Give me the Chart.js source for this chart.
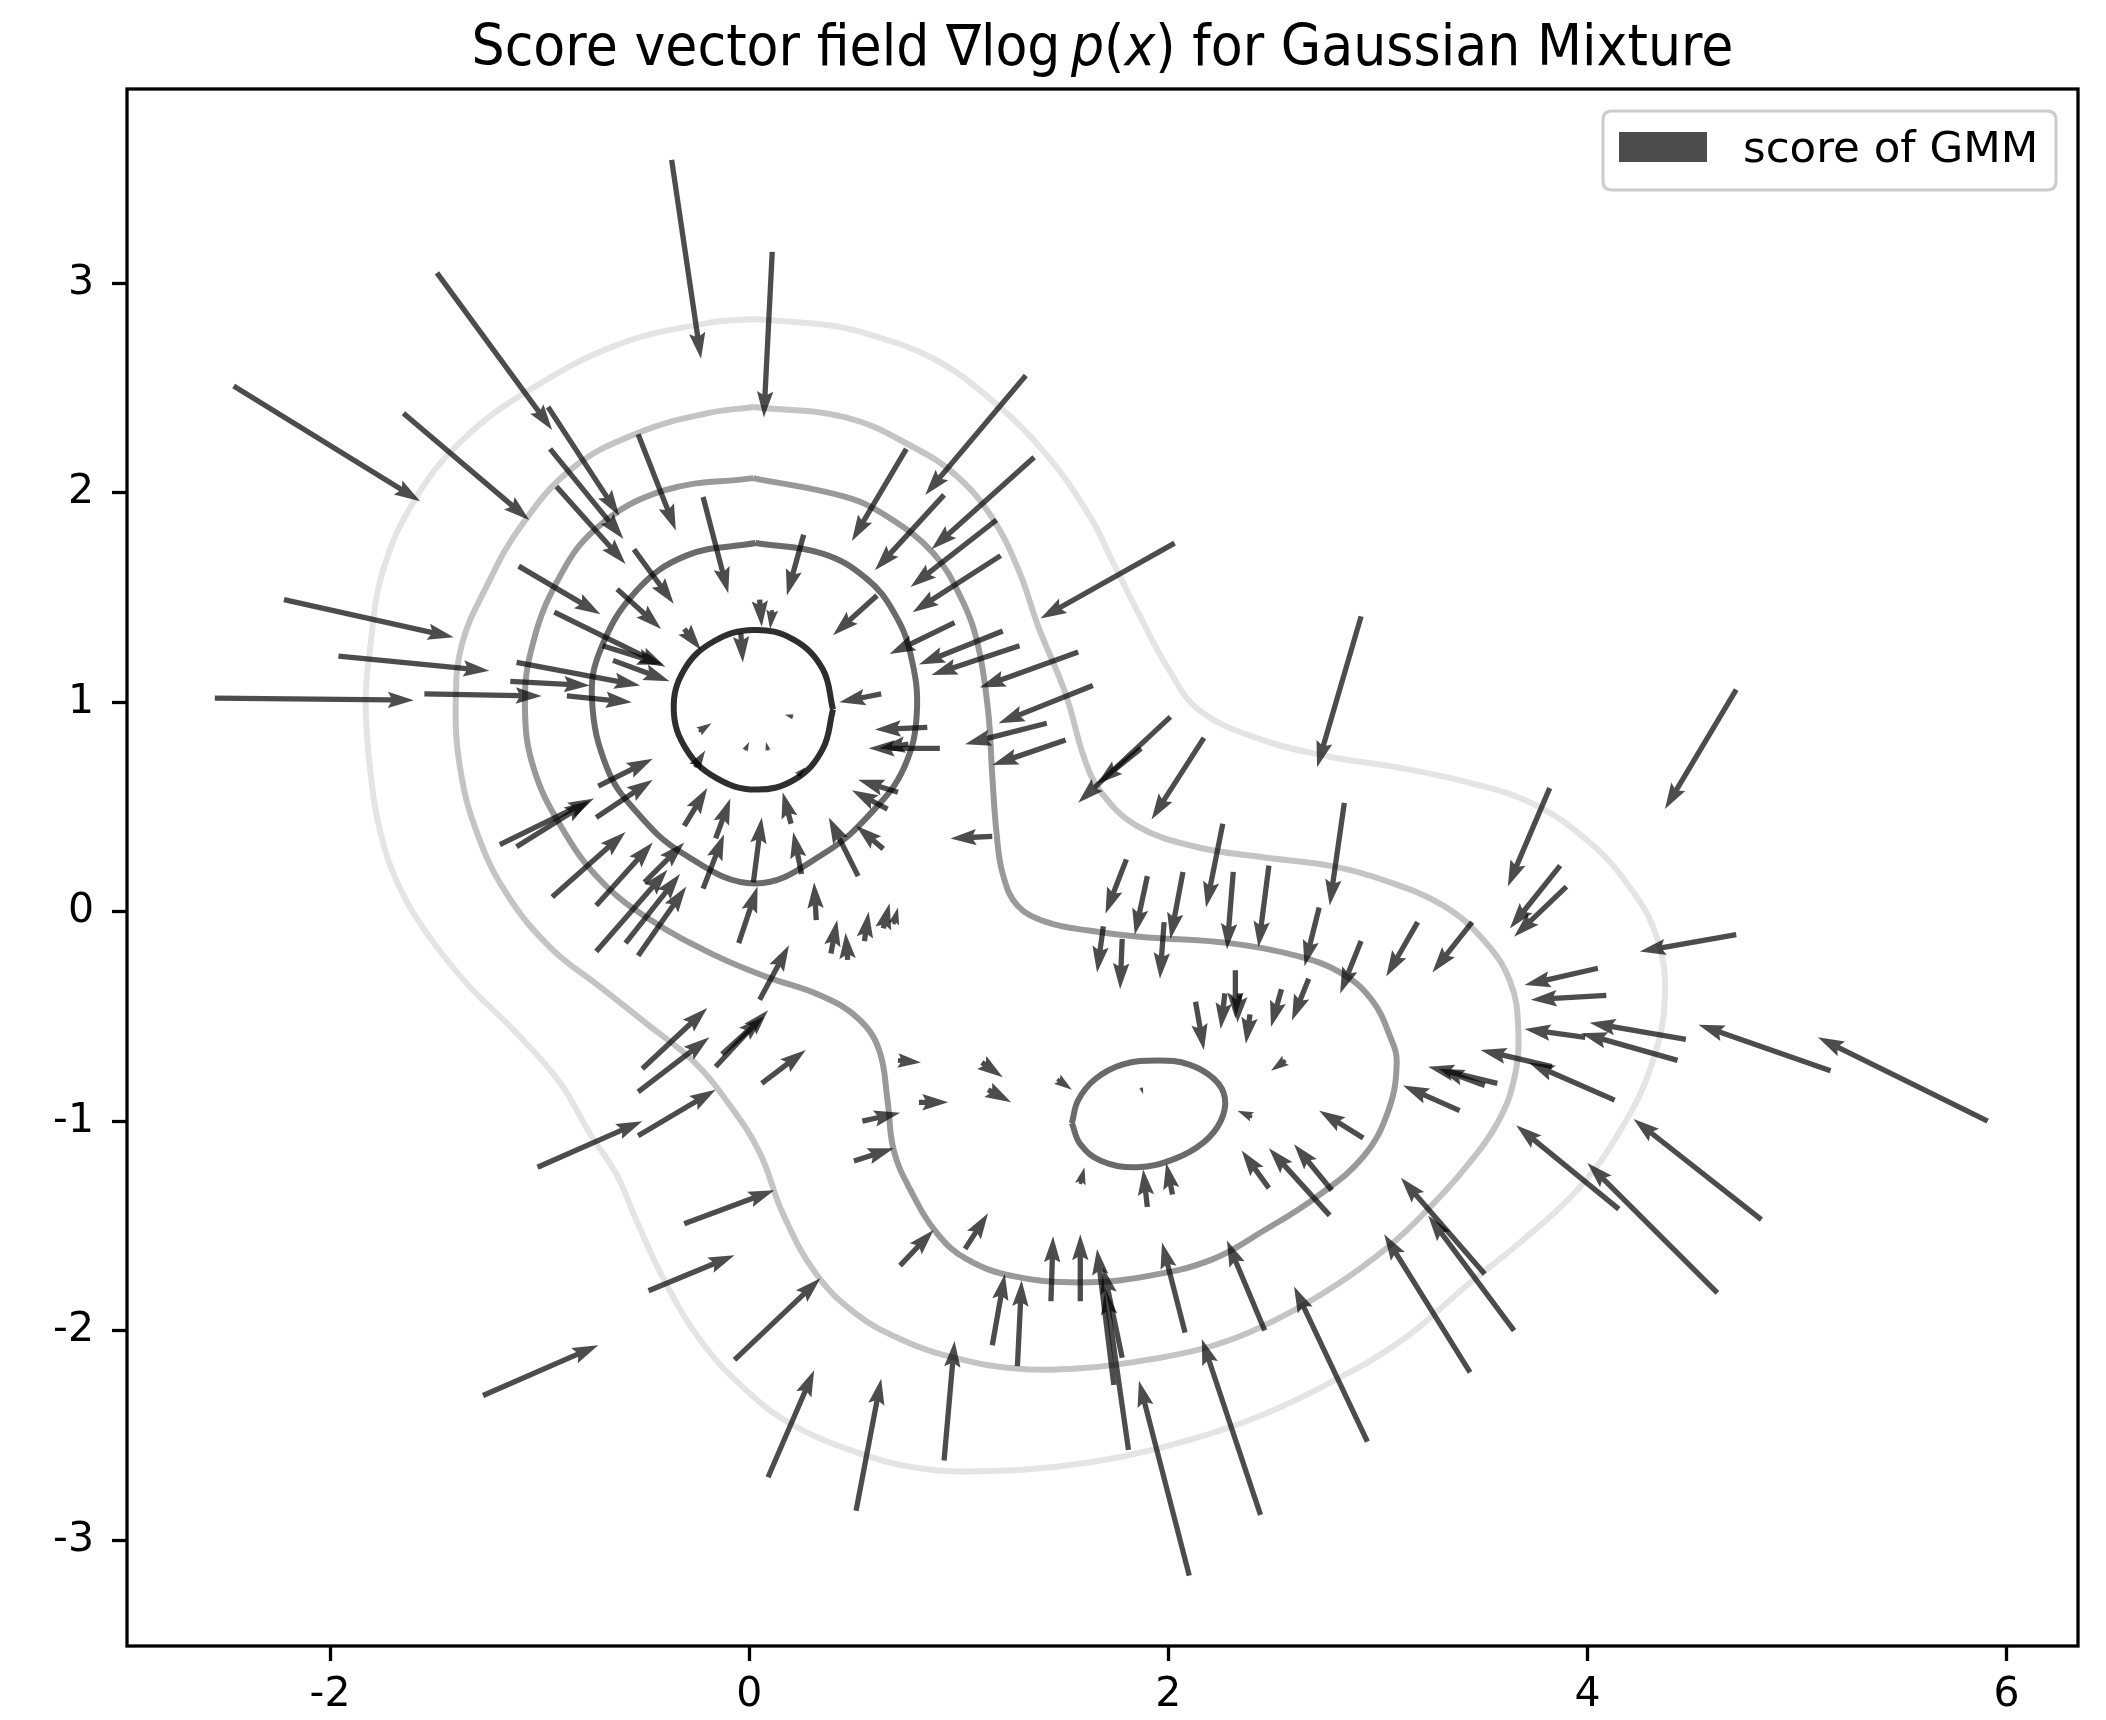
<!DOCTYPE html>
<html lang="en">
<head>
<meta charset="UTF-8">
<title>Score vector field for Gaussian Mixture</title>
<style>
    * { margin: 0; padding: 0; box-sizing: border-box; }
    body { background: #fff; width: 2106px; height: 1720px; overflow: hidden; }
    canvas { display: block; }
</style>
</head>
<body>
<canvas id="scoreChart" width="2106" height="1720"></canvas>
<script src="https://cdn.jsdelivr.net/npm/chart.js@4"></script>
<script>
// tick values
const xTickValues = [-2, 0, 2, 4, 6];
const yTickValues = [-3, -2, -1, 0, 1, 2, 3];

// arrows: tail position and vector (data units)
const arrowX = [-0.37,0.11,-1.49,-2.46,-1.65,-0.96,-0.95,-0.92,-0.53,-0.22,0.26,1.32,0.75,1.36,0.93,1.18,1.20,2.03,0.61,-2.22,
  -1.96,-2.55,-1.10,-0.55,-0.63,-0.93,0.98,1.21,1.29,1.57,0.63,0.85,0.91,0.76,1.64,1.42,1.51,1.16,2.01,1.87,
  2.17,2.92,3.82,4.71,0.71,0.66,0.64,0.52,0.25,0.20,0.02,-0.05,0.32,-0.22,-0.16,-0.31,-0.94,-0.73,-0.73,-0.59,
  -0.53,-0.50,-0.73,-0.72,-1.19,-1.11,-0.26,-0.02,0.09,0.39,0.47,0.55,0.64,0.69,0.05,-0.04,0.05,0.11,-0.31,0.23,
  0.21,-0.24,-1.55,-1.11,-1.14,-0.87,-0.70,-0.65,1.80,1.90,2.07,2.26,2.31,2.48,2.84,1.69,1.78,1.98,2.72,2.67,
  2.54,2.92,3.19,3.45,3.87,3.90,2.32,2.27,2.13,2.39,2.34,4.71,4.05,4.09,4.47,4.43,3.99,5.16,5.91,4.13,
  3.57,3.51,3.83,3.39,2.93,2.48,2.77,2.78,2.40,2.56,1.87,1.90,2.02,1.58,4.15,3.51,3.65,3.44,4.62,4.83,
  2.95,2.46,2.44,2.10,1.81,1.74,1.78,2.08,1.44,1.58,1.16,1.28,0.93,0.09,0.51,-0.07,0.72,1.03,0.54,0.50,
  0.71,0.81,1.11,1.14,1.47,-0.16,-0.13,-0.51,-0.53,0.06,-0.53,-1.01,-0.31,-0.48,-1.27];
const arrowY = [3.59,3.15,3.05,2.51,2.38,2.41,2.21,2.03,2.28,1.98,1.80,2.56,2.21,2.17,1.99,1.87,1.70,1.76,1.51,1.49,
  1.22,1.02,1.65,1.73,1.54,1.43,1.38,1.34,1.27,1.24,1.04,0.88,0.78,0.80,1.08,0.90,0.82,0.36,0.93,0.78,
  0.83,1.41,0.59,1.06,0.57,0.49,0.30,0.17,0.18,0.42,0.14,-0.15,-0.04,0.11,0.35,0.41,0.07,0.03,-0.19,-0.15,
  -0.21,0.14,0.45,0.60,0.32,0.31,0.69,0.77,0.77,-0.20,-0.23,-0.14,-0.08,-0.06,-0.42,1.33,1.49,1.44,1.35,0.65,
  0.93,0.86,1.04,1.19,1.10,1.03,1.27,1.20,0.25,0.17,0.19,0.42,0.19,0.22,0.52,-0.07,-0.13,-0.05,0.02,-0.32,
  -0.37,-0.14,-0.05,-0.05,0.22,0.12,-0.28,-0.39,-0.43,-0.49,-0.39,-0.11,-0.27,-0.40,-0.61,-0.71,-0.60,-0.76,-1.00,-0.90,
  -0.82,-0.83,-0.74,-0.95,-1.08,-1.32,-1.45,-1.33,-0.98,-0.71,-0.84,-1.41,-1.35,-1.30,-1.42,-1.73,-2.00,-2.20,-1.82,-1.47,
  -2.53,-2.00,-2.88,-3.17,-2.57,-2.26,-2.13,-2.01,-1.86,-1.86,-2.07,-2.17,-2.62,-2.70,-2.86,-2.14,-1.69,-1.61,-1.00,-1.19,
  -0.71,-0.91,-0.72,-0.85,-0.80,-0.74,-0.68,-0.75,-0.86,-0.82,-1.07,-1.22,-1.49,-1.81,-2.31];
const arrowU = [0.14,-0.04,0.55,0.89,0.60,0.34,0.35,0.33,0.18,0.12,-0.08,-0.48,-0.26,-0.49,-0.33,-0.41,-0.42,-0.64,-0.21,0.81,
  0.72,0.95,0.39,0.19,0.21,0.53,-0.31,-0.40,-0.42,-0.47,-0.20,-0.25,-0.34,-0.14,-0.45,-0.39,-0.35,-0.20,-0.44,-0.21,
  -0.25,-0.21,-0.20,-0.34,-0.19,-0.17,-0.13,-0.14,-0.04,-0.04,0.04,0.09,-0.01,0.10,0.07,0.11,0.35,0.27,0.34,0.26,
  0.23,0.19,0.27,0.26,0.45,0.35,0.05,0.02,-0.01,0.03,-0.01,0.02,0.03,0.02,0.14,0.01,0.01,-0.01,0.08,0.04,
  -0.04,0.06,0.56,0.59,0.38,0.31,0.29,0.27,-0.10,-0.06,-0.06,-0.08,-0.03,-0.05,-0.07,-0.03,-0.01,-0.02,-0.07,-0.08,
  -0.05,-0.10,-0.15,-0.19,-0.24,-0.25,0.00,-0.02,0.04,-0.02,-0.01,-0.46,-0.35,-0.36,-0.46,-0.46,-0.29,-0.63,-0.81,-0.41,
  -0.33,-0.22,-0.34,-0.27,-0.21,-0.13,-0.29,-0.18,-0.07,-0.07,0.01,-0.02,-0.03,0.02,-0.49,-0.40,-0.41,-0.41,-0.62,-0.61,
  -0.35,-0.18,-0.28,-0.24,-0.11,-0.08,-0.09,-0.11,0.01,0.00,0.06,0.02,0.05,0.22,0.12,0.41,0.16,0.11,0.18,0.19,
  0.11,0.14,0.10,0.11,0.07,0.25,0.20,0.31,0.34,0.21,0.37,0.50,0.43,0.41,0.55];
const arrowV = [-0.95,-0.79,-0.75,-0.55,-0.51,-0.52,-0.43,-0.37,-0.46,-0.46,-0.29,-0.57,-0.44,-0.44,-0.36,-0.32,-0.27,-0.36,-0.19,-0.18,
  -0.07,-0.01,-0.23,-0.26,-0.19,-0.26,-0.15,-0.16,-0.14,-0.17,-0.04,-0.01,0.00,-0.02,-0.18,-0.10,-0.12,-0.01,-0.41,-0.17,
  -0.39,-0.72,-0.47,-0.57,0.06,0.09,0.11,0.28,0.20,0.15,0.31,0.27,0.18,0.26,0.19,0.18,0.31,0.30,0.39,0.33,
  0.33,0.19,0.18,0.13,0.22,0.22,0.08,0.04,0.04,0.16,0.13,0.14,0.12,0.08,0.26,-0.14,-0.13,-0.09,-0.10,0.04,
  0.01,0.04,-0.01,-0.11,-0.02,-0.03,-0.09,-0.10,-0.26,-0.28,-0.32,-0.40,-0.37,-0.39,-0.49,-0.22,-0.24,-0.27,-0.28,-0.20,
  -0.18,-0.25,-0.26,-0.24,-0.30,-0.24,-0.23,-0.17,-0.23,-0.14,-0.14,-0.08,-0.08,-0.02,0.08,0.13,0.04,0.22,0.40,0.18,
  0.08,0.08,0.08,0.12,0.13,0.18,0.32,0.22,0.03,-0.05,-0.03,0.18,0.15,0.08,0.40,0.46,0.55,0.66,0.62,0.48,
  0.74,0.43,0.84,0.93,0.77,0.65,0.43,0.43,0.31,0.32,0.34,0.41,0.57,0.51,0.63,0.39,0.17,0.17,0.04,0.06,
  -0.01,0.00,-0.07,-0.06,-0.05,0.27,0.18,0.29,0.26,0.16,0.22,0.22,0.16,0.17,0.24];

// density contour levels, outermost to innermost
const levelFive = [[0.02,2.83],[0.38,2.80],[0.56,2.76],[0.88,2.64],[1.16,2.44],[1.42,2.18],[1.63,1.88],[1.73,1.68],[1.85,1.44],
  [2.00,1.16],[2.15,0.96],[2.45,0.82],[2.77,0.74],[3.09,0.69],[3.42,0.62],[3.73,0.52],[4.00,0.34],[4.20,0.12],[4.33,-0.12],
  [4.37,-0.40],[4.31,-0.72],[4.16,-1.04],[3.95,-1.33],[3.69,-1.57],[3.43,-1.78],[3.11,-2.05],[2.75,-2.26],[2.43,-2.41],
  [2.11,-2.52],[1.79,-2.60],[1.47,-2.65],[1.15,-2.67],[0.83,-2.66],[0.51,-2.58],[0.19,-2.44],[-0.03,-2.27],[-0.23,-2.05],
  [-0.40,-1.77],[-0.54,-1.47],[-0.63,-1.26],[-0.76,-1.06],[-0.90,-0.82],[-1.11,-0.58],[-1.35,-0.34],[-1.54,-0.10],
  [-1.67,0.12],[-1.76,0.38],[-1.81,0.69],[-1.83,1.01],[-1.81,1.25],[-1.75,1.62],[-1.60,1.96],[-1.37,2.25],[-1.05,2.49],
  [-0.62,2.71],[-0.20,2.81]];
const levelFour = [[0.02,2.41],[0.46,2.36],[0.78,2.22],[0.99,2.08],[1.16,1.88],[1.29,1.62],[1.38,1.36],[1.51,1.04],[1.60,0.73],
  [1.68,0.57],[1.85,0.41],[2.13,0.31],[2.45,0.26],[2.77,0.22],[3.03,0.15],[3.31,0.03],[3.50,-0.13],[3.63,-0.33],[3.67,-0.56],
  [3.65,-0.80],[3.57,-1.01],[3.42,-1.22],[3.24,-1.42],[3.05,-1.60],[2.79,-1.79],[2.51,-1.95],[2.22,-2.07],[1.90,-2.14],
  [1.58,-2.18],[1.26,-2.18],[0.94,-2.12],[0.72,-2.04],[0.51,-1.92],[0.32,-1.73],[0.16,-1.44],[0.05,-1.15],[-0.11,-0.90],
  [-0.27,-0.71],[-0.47,-0.55],[-0.71,-0.36],[-0.95,-0.17],[-1.16,0.09],[-1.30,0.38],[-1.38,0.69],[-1.40,1.01],[-1.37,1.28],
  [-1.26,1.54],[-1.09,1.84],[-0.84,2.12],[-0.52,2.29],[-0.20,2.38]];
const levelThree = [[0.02,2.07],[0.46,1.98],[0.67,1.88],[0.88,1.71],[1.01,1.50],[1.09,1.28],[1.14,0.96],[1.16,0.65],[1.18,0.38],
  [1.21,0.18],[1.28,0.03],[1.42,-0.05],[1.62,-0.09],[1.86,-0.12],[2.29,-0.15],[2.61,-0.21],[2.82,-0.29],[2.97,-0.42],
  [3.06,-0.60],[3.09,-0.72],[3.05,-0.95],[2.93,-1.17],[2.71,-1.36],[2.46,-1.52],[2.21,-1.66],[1.90,-1.74],[1.58,-1.77],
  [1.26,-1.74],[1.04,-1.66],[0.90,-1.54],[0.77,-1.33],[0.69,-1.14],[0.66,-0.90],[0.62,-0.66],[0.52,-0.51],[0.34,-0.40],
  [0.08,-0.31],[-0.16,-0.21],[-0.47,-0.04],[-0.71,0.15],[-0.90,0.41],[-1.03,0.69],[-1.07,0.97],[-1.04,1.25],[-0.92,1.57],
  [-0.73,1.83],[-0.41,2.01]];
const levelTwoLeft = [[0.03,1.76],[0.35,1.71],[0.56,1.59],[0.69,1.43],[0.77,1.23],[0.80,0.95],[0.74,0.69],[0.59,0.48],[0.36,0.28],
  [0.03,0.135],[-0.32,0.28],[-0.55,0.49],[-0.68,0.69],[-0.75,1.01],[-0.71,1.25],[-0.54,1.53],[-0.30,1.70]];
const levelTwoRight = [[1.54,-1.01],[1.57,-0.90],[1.65,-0.80],[1.78,-0.73],[1.95,-0.71],[2.10,-0.73],[2.22,-0.80],[2.27,-0.89],
  [2.25,-1.00],[2.17,-1.10],[2.03,-1.18],[1.85,-1.22],[1.68,-1.19],[1.58,-1.11]];
const levelOne = [[0.40,0.965],[0.35,1.16],[0.21,1.30],[0.02,1.345],[-0.17,1.29],[-0.31,1.155],[-0.36,0.965],[-0.30,0.775],
  [-0.16,0.64],[0.03,0.583],[0.22,0.633],[0.35,0.775]];

const legendLabel = 'score of GMM';
const arrowColor = 'rgba(0, 0, 0, 0.7)';

function closedLoop(points) {
    const pts = points.map(p => ({ x: p[0], y: p[1] }));
    pts.push({ x: points[0][0], y: points[0][1] });
    return pts;
}

function contourSet(points, color) {
    return {
        data: closedLoop(points),
        showLine: true,
        borderColor: color,
        borderWidth: 6,
        pointRadius: 0,
        tension: 0.4,
        fill: false
    };
}

const arrowData = arrowX.map((x, i) => ({ x: x, y: arrowY[i], u: arrowU[i], v: arrowV[i] }));

function drawArrow(ctx, x0, y0, x1, y1) {
    const dx = x1 - x0, dy = y1 - y0;
    const len = Math.hypot(dx, dy);
    let w = 5.3, hl = 26, hal = 23, hw = 8.2;
    if (len < hl) {
        const s = len / hl;
        w *= s; hl *= s; hal *= s; hw *= s;
    }
    ctx.save();
    ctx.translate(x0, y0);
    ctx.rotate(Math.atan2(dy, dx));
    ctx.beginPath();
    ctx.moveTo(0, -w / 2);
    ctx.lineTo(len - hal, -w / 2);
    ctx.lineTo(len - hl, -hw);
    ctx.lineTo(len, 0);
    ctx.lineTo(len - hl, hw);
    ctx.lineTo(len - hal, w / 2);
    ctx.lineTo(0, w / 2);
    ctx.closePath();
    ctx.fill();
    ctx.restore();
}

// quiver arrows, drawn through the chart scales
const quiverPlugin = {
    id: 'quiver',
    afterDatasetsDraw(chart) {
        const ctx = chart.ctx;
        const xs = chart.scales.x, ys = chart.scales.y;
        const a = chart.chartArea;
        const ds = chart.data.datasets.find(d => d.isQuiver);
        ctx.save();
        ctx.beginPath();
        ctx.rect(a.left, a.top, a.right - a.left, a.bottom - a.top);
        ctx.clip();
        ctx.fillStyle = ds.arrowColor;
        ds.data.forEach(p => {
            drawArrow(ctx,
                xs.getPixelForValue(p.x), ys.getPixelForValue(p.y),
                xs.getPixelForValue(p.x + p.u), ys.getPixelForValue(p.y + p.v));
        });
        ctx.restore();
    }
};

function roundedRect(ctx, x, y, w, h, r) {
    ctx.beginPath();
    ctx.moveTo(x + r, y);
    ctx.lineTo(x + w - r, y);
    ctx.quadraticCurveTo(x + w, y, x + w, y + r);
    ctx.lineTo(x + w, y + h - r);
    ctx.quadraticCurveTo(x + w, y + h, x + w - r, y + h);
    ctx.lineTo(x + r, y + h);
    ctx.quadraticCurveTo(x, y + h, x, y + h - r);
    ctx.lineTo(x, y + r);
    ctx.quadraticCurveTo(x, y, x + r, y);
    ctx.closePath();
}

// frame, title with math italics, legend box
const decorPlugin = {
    id: 'decor',
    afterDraw(chart) {
        const ctx = chart.ctx;
        const a = chart.chartArea;
        ctx.save();
        ctx.strokeStyle = '#000';
        ctx.lineWidth = 3.3;
        ctx.strokeRect(a.left, a.top, a.right - a.left, a.bottom - a.top);

        // title
        const size = 57;
        const normal = size + 'px "DejaVu Sans"';
        const italic = 'italic ' + size + 'px "DejaVu Sans"';
        const parts = [
            ['Score vector field \u2207log', normal],
            ['\u2009', normal],
            ['p', italic],
            ['(', normal],
            ['x', italic],
            [')', normal],
            [' for Gaussian Mixture', normal]
        ];
        let total = 0;
        parts.forEach(p => { ctx.font = p[1]; total += ctx.measureText(p[0]).width; });
        const squeeze = 1262 / total;
        ctx.translate((a.left + a.right) / 2, 65);
        ctx.scale(squeeze, 1);
        ctx.fillStyle = '#000';
        ctx.textBaseline = 'alphabetic';
        let cx = -total / 2;
        parts.forEach(p => {
            ctx.font = p[1];
            ctx.fillText(p[0], cx, 0);
            cx += ctx.measureText(p[0]).width;
        });
        ctx.restore();

        // legend
        ctx.save();
        roundedRect(ctx, 1603, 111, 453, 79, 9);
        ctx.fillStyle = 'rgba(255,255,255,0.8)';
        ctx.fill();
        ctx.strokeStyle = '#cccccc';
        ctx.lineWidth = 3;
        ctx.stroke();
        ctx.fillStyle = arrowColor;
        ctx.fillRect(1619, 132, 88, 30);
        ctx.fillStyle = '#000';
        ctx.font = '43.5px "DejaVu Sans"';
        ctx.textBaseline = 'alphabetic';
        ctx.fillText(legendLabel, 1743, 162);
        ctx.restore();
    }
};

const tickFont = { family: 'DejaVu Sans', size: 41 };

new Chart(document.getElementById('scoreChart'), {
    type: 'scatter',
    data: {
        datasets: [
            contourSet(levelFive, '#e4e4e4'),
            contourSet(levelFour, '#c4c4c4'),
            contourSet(levelThree, '#999999'),
            contourSet(levelTwoLeft, '#6a6a6a'),
            contourSet(levelTwoRight, '#6a6a6a'),
            contourSet(levelOne, '#2e2e2e'),
            {
                label: legendLabel,
                isQuiver: true,
                arrowColor: arrowColor,
                data: arrowData,
                pointRadius: 0,
                showLine: false
            }
        ]
    },
    options: {
        responsive: false,
        animation: false,
        devicePixelRatio: 1,
        layout: { padding: { top: 89, right: 28, bottom: 0, left: 0 } },
        plugins: {
            legend: { display: false },
            tooltip: { enabled: false },
            title: { display: false }
        },
        scales: {
            x: {
                type: 'linear',
                min: -2.969,
                max: 6.341,
                afterBuildTicks: axis => { axis.ticks = xTickValues.map(v => ({ value: v })); },
                afterFit: axis => { axis.height = 74; },
                border: { display: false },
                grid: { display: true, drawOnChartArea: false, drawTicks: true, tickLength: 15, tickWidth: 3.3, tickColor: '#000', color: '#000' },
                ticks: { font: tickFont, color: '#000', padding: 10, maxRotation: 0, callback: v => String(v) }
            },
            y: {
                type: 'linear',
                min: -3.506,
                max: 3.928,
                afterBuildTicks: axis => { axis.ticks = yTickValues.map(v => ({ value: v })); },
                afterFit: axis => { axis.width = 127; },
                border: { display: false },
                grid: { display: true, drawOnChartArea: false, drawTicks: true, tickLength: 15, tickWidth: 3.3, tickColor: '#000', color: '#000' },
                ticks: { font: tickFont, color: '#000', padding: 18, callback: v => String(v) }
            }
        }
    },
    plugins: [quiverPlugin, decorPlugin]
});
</script>
</body>
</html>
